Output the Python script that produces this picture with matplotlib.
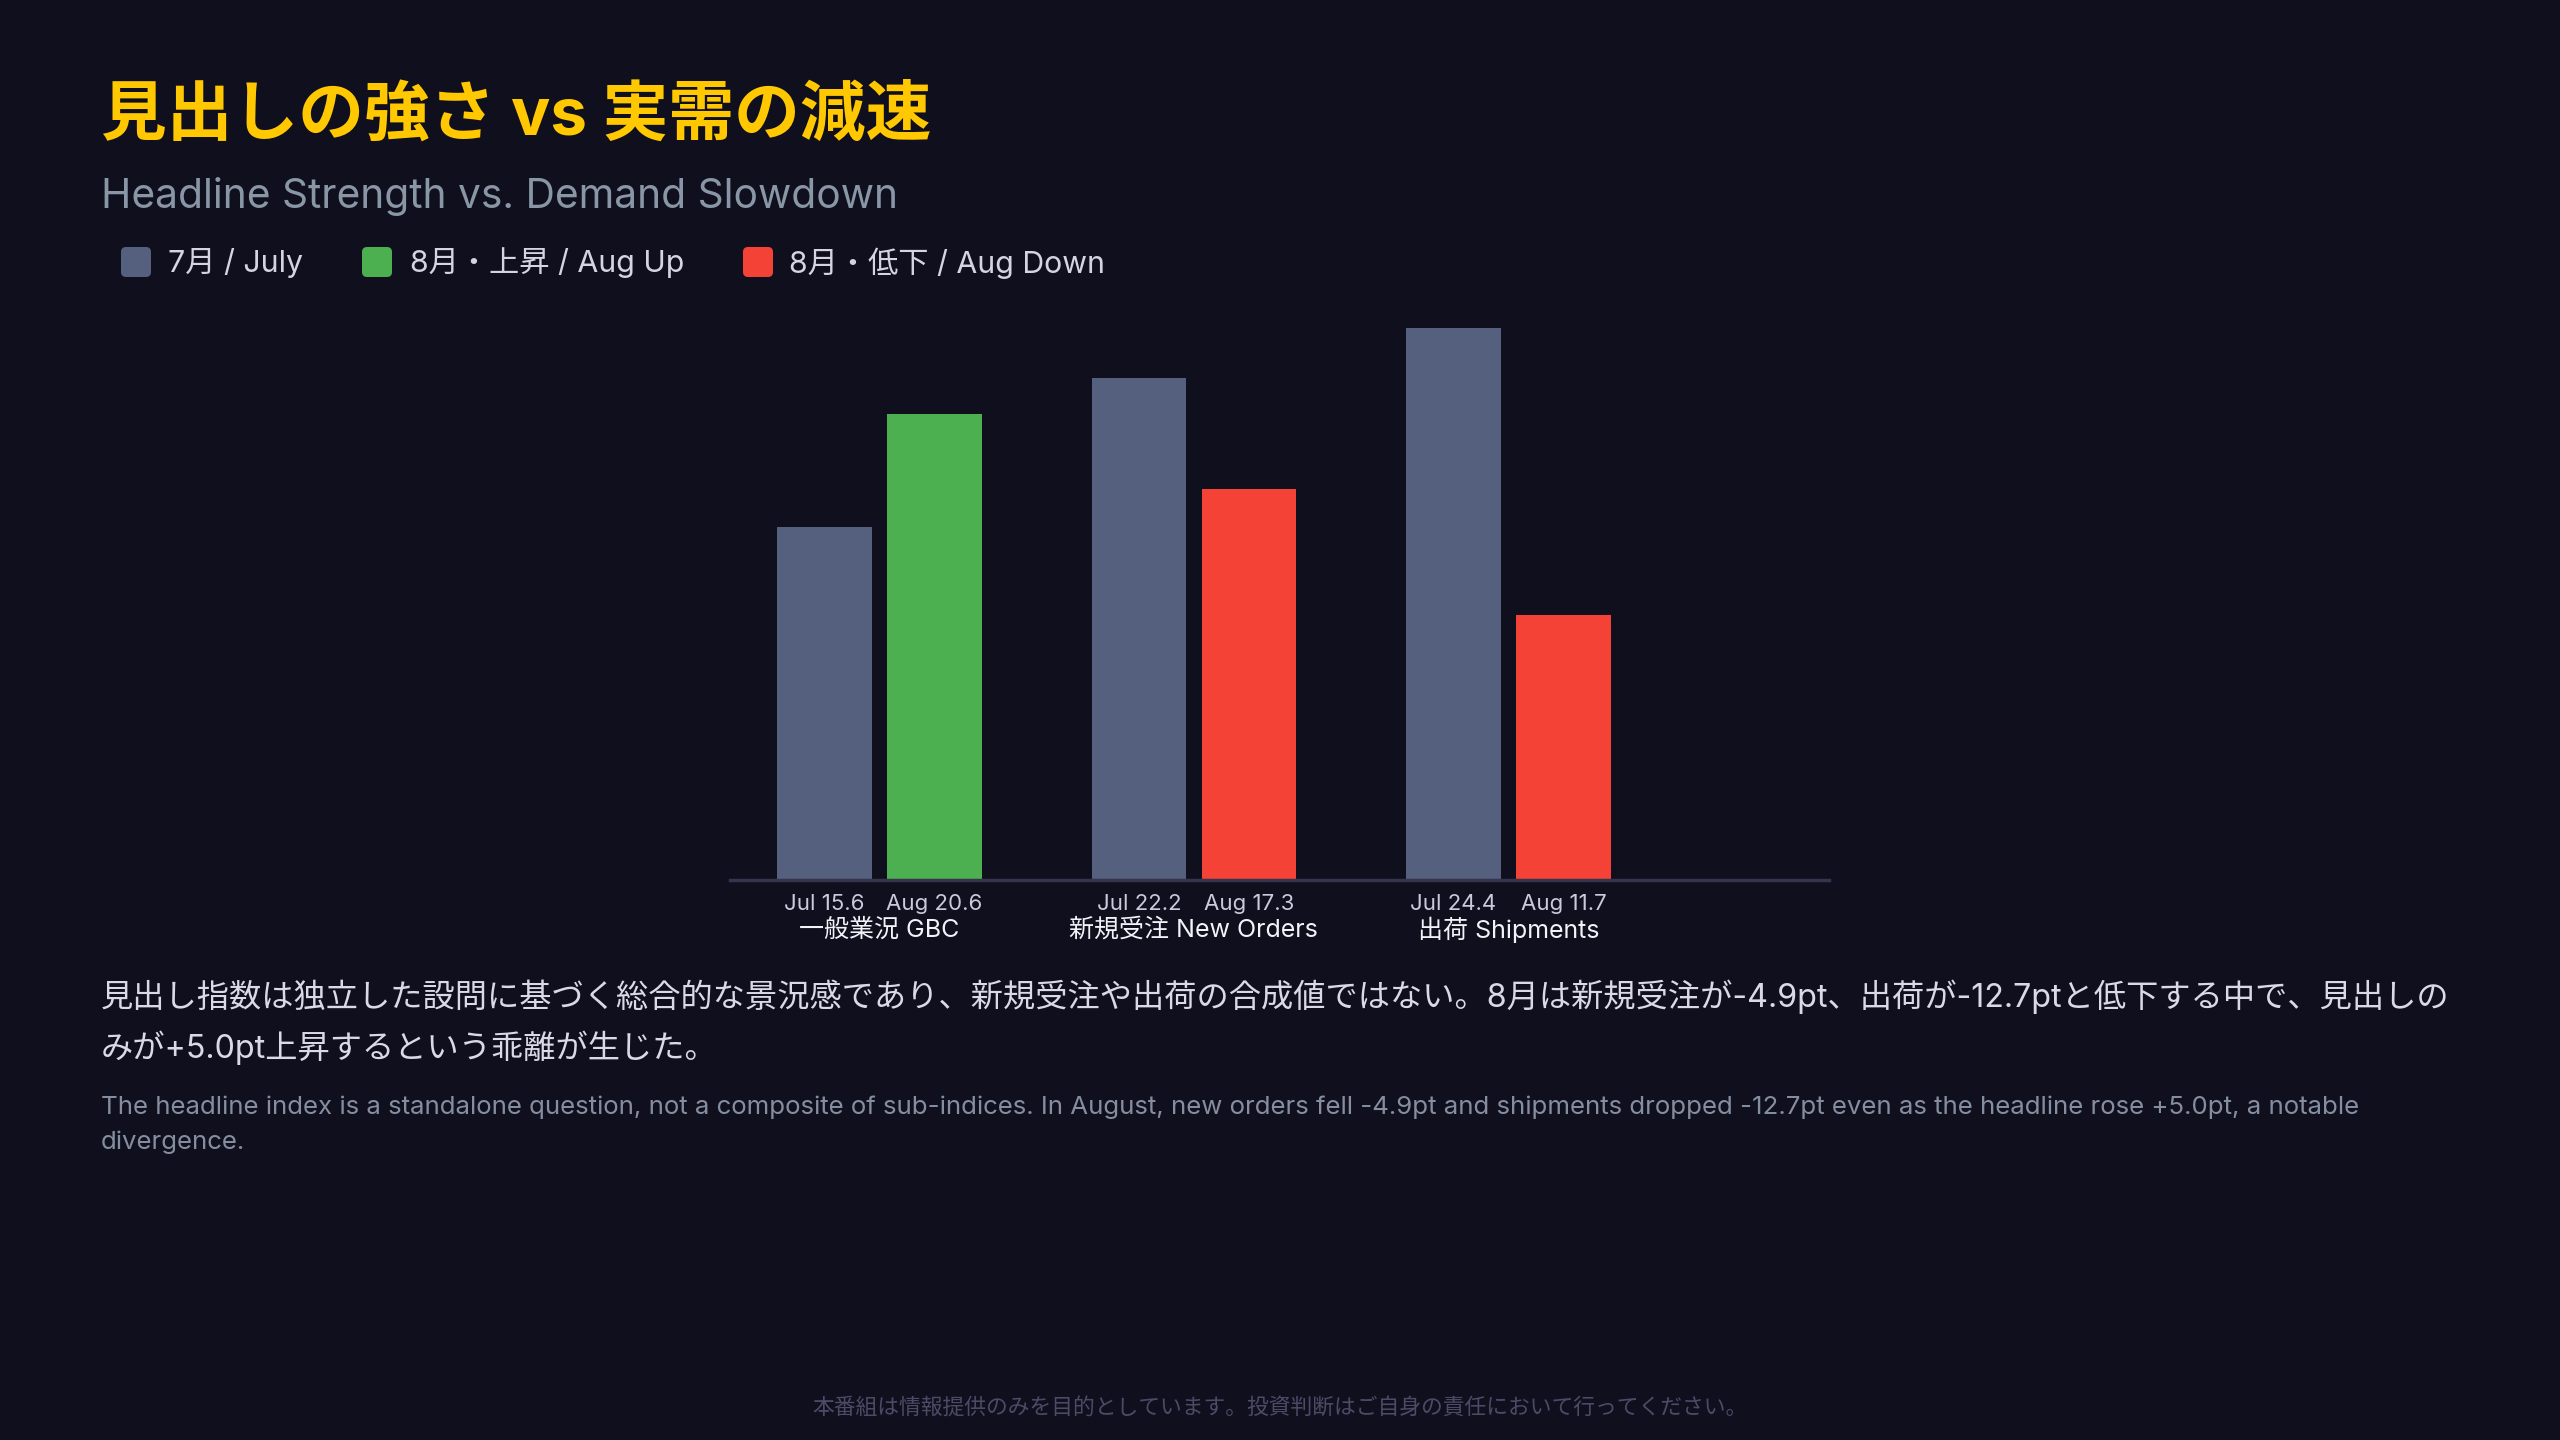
import numpy as np
import matplotlib.pyplot as plt
from matplotlib.patches import FancyBboxPatch
from matplotlib.transforms import IdentityTransform

plt.rcParams['font.family'] = ['Inter', 'Noto Sans CJK JP', 'DejaVu Sans']

# データ
categories = ['一般業況 GBC', '新規受注 New Orders', '出荷 Shipments']
jul_vals = [15.6, 22.2, 24.4]
aug_vals = [20.6, 17.3, 11.7]
legend_labels = ['7月 / July', '8月・上昇 / Aug Up', '8月・低下 / Aug Down']

BG = '#0f0f1d'
C_JUL = '#55607f'
C_UP = '#4caf50'
C_DOWN = '#f44336'

fig = plt.figure(figsize=(25.6, 14.4), dpi=100, facecolor=BG)
ax = fig.add_axes([0.2852, 0.3889, 0.4293, 0.4215], facecolor=BG)

x = np.arange(len(categories))
w = 0.3
off = 0.175
aug_colors = [C_UP if a > j else C_DOWN for j, a in zip(jul_vals, aug_vals)]
ax.bar(x - off, jul_vals, w, color=C_JUL)
ax.bar(x + off, aug_vals, w, color=aug_colors)

ax.set_xlim(-0.475, 3.02)
ax.set_ylim(0, max(jul_vals + aug_vals) * 1.1)
for s in ['top', 'right', 'left']:
    ax.spines[s].set_visible(False)
ax.spines['bottom'].set_color('#34344f')
ax.spines['bottom'].set_linewidth(2.5)
ax.set_xticks([])
ax.set_yticks([])

# バー下のラベル
for i, cat in enumerate(categories):
    ax.annotate(f'Jul {jul_vals[i]}', (x[i] - off, 0), xytext=(0, -24),
                textcoords='offset pixels', ha='center', va='center',
                fontsize=16, color='#c9cbdb')
    ax.annotate(f'Aug {aug_vals[i]}', (x[i] + off, 0), xytext=(0, -24),
                textcoords='offset pixels', ha='center', va='center',
                fontsize=16, color='#c9cbdb')
    ax.annotate(cat, (x[i], 0), xytext=(0, -50),
                textcoords='offset pixels', ha='center', va='center',
                fontsize=18, color='#f2f2f8')

# タイトル
fig.text(0.0395, 1 - 116 / 1440, '見出しの強さ vs 実需の減速', fontsize=47.3,
         fontweight='bold', color='#ffc800', va='center', ha='left')
fig.text(0.0395, 1 - 197 / 1440, 'Headline Strength vs. Demand Slowdown', fontsize=29.3,
         color='#8896a6', va='center', ha='left')

# 凡例
H = 1440
leg = [(121, 168, C_JUL), (362, 410, C_UP), (743, 789, C_DOWN)]
for (sx, tx, c), lab in zip(leg, legend_labels):
    fig.patches.append(FancyBboxPatch((sx, H - 277), 30, 30,
                                      boxstyle='round,pad=0,rounding_size=5',
                                      transform=IdentityTransform(),
                                      facecolor=c, edgecolor='none'))
    fig.text(tx / 2560, 1 - 263 / H, lab, fontsize=21.8, color='#d4d4e2',
             va='center', ha='left')

# 本文
jp_lines = ['見出し指数は独立した設問に基づく総合的な景況感であり、新規受注や出荷の合成値ではない。8月は新規受注が-4.9pt、出荷が-12.7ptと低下する中で、見出しの',
            'みが+5.0pt上昇するという乖離が生じた。']
for k, line in enumerate(jp_lines):
    fig.text(0.0395, 1 - (997 + 51 * k) / H, line, fontsize=23.2,
             color='#d9dae6', va='center', ha='left')

en_lines = ['The headline index is a standalone question, not a composite of sub-indices. In August, new orders fell -4.9pt and shipments dropped -12.7pt even as the headline rose +5.0pt, a notable',
            'divergence.']
for k, line in enumerate(en_lines):
    fig.text(0.0395, 1 - (1107 + 35 * k) / H, line, fontsize=18.6,
             color='#858ea0', va='center', ha='left')

fig.text(0.5, 1 - 1407 / H, '本番組は情報提供のみを目的としています。投資判断はご自身の責任において行ってください。',
         fontsize=15.7, color='#4b4b68', va='center', ha='center')

fig.savefig('out.png', dpi=100, facecolor=BG)
